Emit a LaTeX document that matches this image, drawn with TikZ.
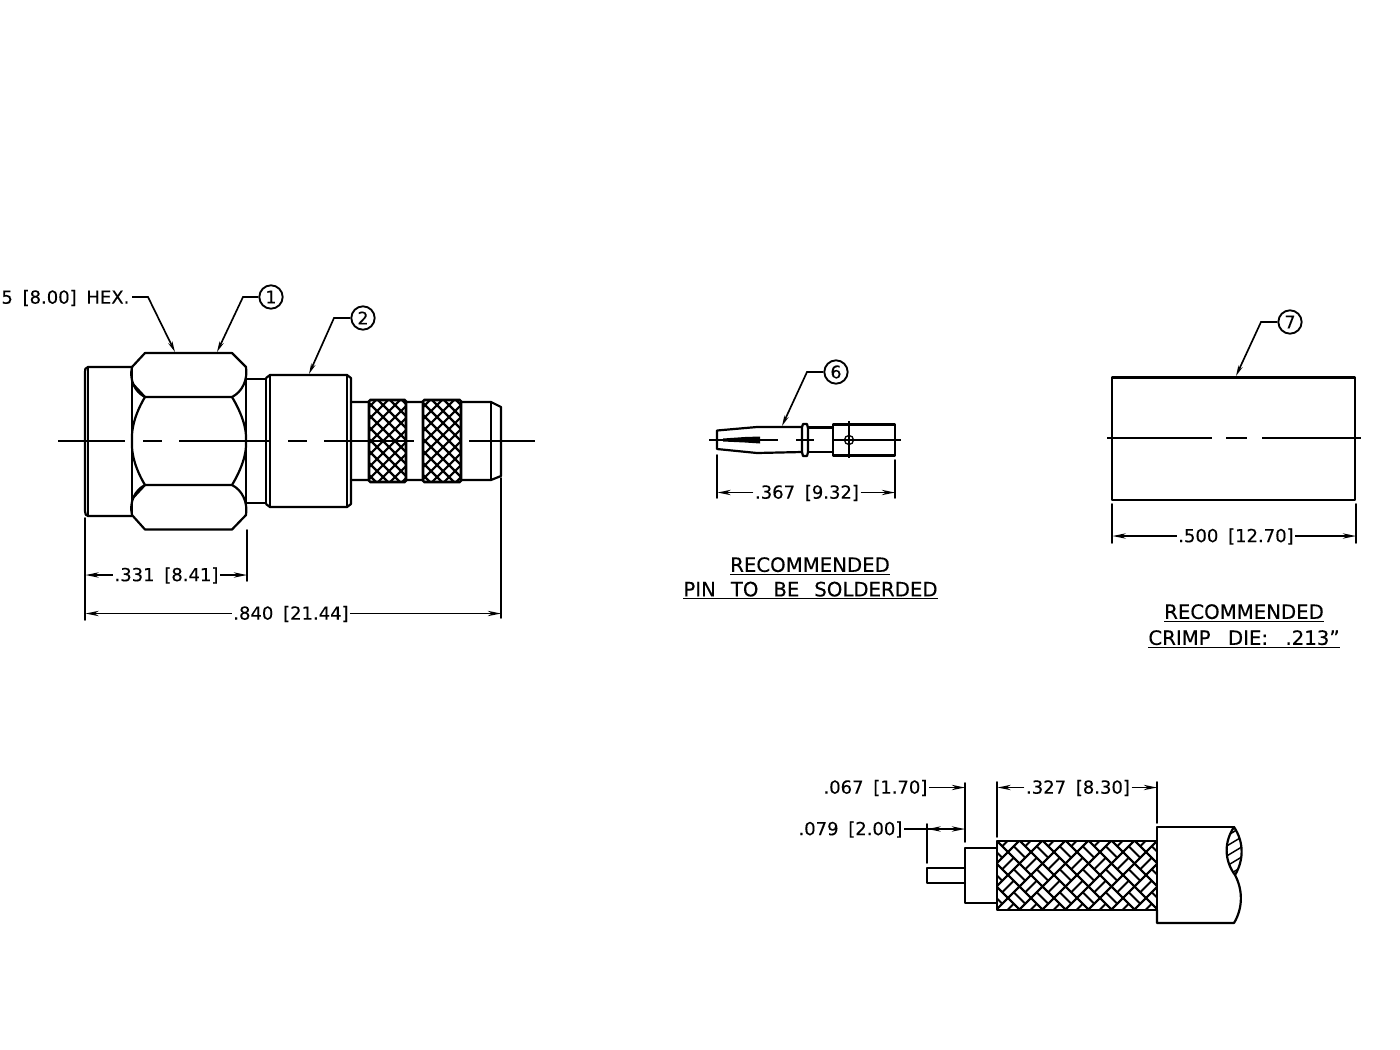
\documentclass[tikz,border=0pt]{standalone}
\usepackage{fontspec}
\setmainfont{DejaVu Sans}[FakeBold=0.25]
\usetikzlibrary{arrows.meta}
\newcommand{\gp}{\hspace{3pt}}
\tikzset{
  x=0.75pt,y=-0.75pt,
  ln/.style={line width=1.65pt,line cap=round,line join=round},
  thin ln/.style={line width=1.25pt,line cap=round},
  dimline/.style={line width=1.15pt,-{Stealth[length=10pt,width=4pt]}},
  leaderln/.style={line width=1.25pt,-{Stealth[length=8pt,width=3.4pt]}},
  dimtext/.style={inner sep=1pt,font=\fontsize{13.5}{15}\selectfont},
  headtext/.style={inner sep=0pt,font=\fontsize{14.8}{17}\selectfont},
  balloon/.style={circle,draw,line width=1.4pt,minimum size=17.5pt,inner sep=0pt,font=\fontsize{13}{13}\selectfont},
  center ln/.style={line width=1.3pt},
  knurl/.style={line width=1.6pt},
  weave/.style={line width=1.45pt},
}
\begin{document}
\begin{tikzpicture}
\useasboundingbox (0,0) rectangle (1400,1050);

% ---------- Main connector ----------
\draw[ln] (132,367) -- (88,367) .. controls (85,367) and (85,370) .. (85,372) -- (85,511) .. controls (85,514) and (86,516) .. (88,516) -- (132,516);
\draw[ln] (88,367) -- (88,516);
\draw[ln] (132,367) -- (132,516);
\draw[ln] (132,367) -- (145,353) -- (232,353) -- (246,367) .. controls (248,380) and (242,392) .. (232,397) -- (145,397) .. controls (135,392) and (129,380) .. (132,367);
\draw[ln] (132,515) -- (145,529.5) -- (232,529.5) -- (246,515) .. controls (248,502) and (242,490) .. (232,485) -- (145,485) .. controls (135,490) and (129,502) .. (132,515);
\draw[ln] (145,397) .. controls (136,412) and (131,428) .. (132,441) .. controls (131,454) and (136,470) .. (145,485);
\draw[ln] (232,397) .. controls (241,412) and (247,428) .. (246,441) .. controls (247,454) and (241,470) .. (232,485);
\draw[ln] (132,383) -- (145,397) (132,499) -- (145,485);
\draw[ln] (246,367) -- (246,515);
\draw[ln] (246,379) -- (266,379) (246,503) -- (266,503);
\draw[ln] (266,379) -- (266,503);
\draw[ln] (266,378) -- (270,375) -- (347,375) -- (351,378) -- (351,504) -- (347,507) -- (270,507) -- (266,504);
\draw[ln] (270,375) -- (270,507) (347,375) -- (347,507);
% tube
\draw[ln] (351,402) -- (369,402) (406,402) -- (423,402) (461,402) -- (491,402) -- (501,407) -- (501,476) -- (491,480) -- (461,480) (423,480) -- (406,480) (369,480) -- (351,480);
\draw[ln] (491,402) -- (491,480);
% knurls
\begin{scope}
\clip (369,400) rectangle (406,482);
\foreach \k in {270,282,...,420}{\draw[knurl] (\k,400) -- ++(82,82) (\k,482) -- ++(82,-82);}
\end{scope}
\begin{scope}
\clip (423,400) rectangle (461,482);
\foreach \k in {324,336,...,474}{\draw[knurl] (\k,400) -- ++(82,82) (\k,482) -- ++(82,-82);}
\end{scope}
\draw[line width=1.9pt,rounded corners=1pt] (369,400) rectangle (406,482);
\draw[line width=1.9pt,rounded corners=1pt] (423,400) rectangle (461,482);
% centre line
\draw[center ln] (58,441) -- (125,441) (143,441) -- (162,441) (179,441) -- (270,441) (288,441) -- (307,441) (324,441) -- (414,441) (469,441) -- (535,441);

% leaders
\node[dimtext,anchor=east] (hex) at (131,298) {5\gp{} [8.00]\gp{} HEX.};
\node[balloon] (b1) at (271,297) {1};
\node[balloon] (b2) at (363,318) {2};
\coordinate (h1) at (175,352);
\coordinate (h2) at (217,352);
\coordinate (h3) at (309,374);
\draw[leaderln] (132,297) -- (148,297) -- (h1);
\draw[leaderln] (b1.west) -- (243,297) -- (h2);
\draw[leaderln] (b2.west) -- (334,318) -- (h3);

% dims, main
\draw[thin ln] (85,518) -- (85,620) (247,530) -- (247,581) (501,478) -- (501,618);
\node[dimtext] (d331) at (166.5,575.5) {.331\gp{} [8.41]};
\node[dimtext] (d840) at (291,614) {.840\gp{} [21.44]};
\coordinate (a1) at (85.5,575);
\coordinate (a2) at (247,575);
\coordinate (a3) at (85.5,613.5);
\coordinate (a4) at (501,613.5);
\draw[dimline] (d331.west |- a1) -- (a1);
\draw[dimline] (d331.east |- a2) -- (a2);
\draw[dimline] (d840.west |- a3) -- (a3);
\draw[dimline] (d840.east |- a4) -- (a4);

% ---------- Pin ----------
\draw[ln] (802,427) -- (757,427) -- (717,430.5) -- (717,449) -- (757,453) -- (802,452);
\draw[ln] (802,427) -- (803,424) -- (807,424) -- (808,428) -- (808,452) -- (807,456) -- (803,456) -- (802,452) -- cycle;
\draw[ln] (808,427.5) -- (833,427.5) (808,452) -- (833,452);
\draw[ln] (833,424.5) rectangle (895,455.5);
\draw[center ln] (709,440) -- (778,440) (796,440) -- (814,440) (832,440) -- (901,440) (849,421) -- (849,458);
\draw[line width=1pt] (849,440) circle[radius=3.4pt];
\fill (723,438.5) -- (745,437) -- (760,436.5) -- (760,443.5) -- (745,442.5) -- (723,441.5) -- cycle;
\node[balloon] (b6) at (836,372) {6};
\coordinate (h6) at (782,426);
\draw[leaderln] (b6.west) -- (807,372) -- (h6);
\draw[thin ln] (717,455) -- (717,498) (895,460) -- (895,498);
\node[dimtext] (d367) at (807,493) {.367\gp{} [9.32]};
\coordinate (a5) at (717.5,492.5);
\coordinate (a6) at (895,492.5);
\draw[dimline] (d367.west |- a5) -- (a5);
\draw[dimline] (d367.east |- a6) -- (a6);
\node[headtext] (r1) at (810,566) {\underline{RECOMMENDED}};
\node[headtext] (r2) at (810.5,590.5) {\underline{PIN\hspace{6.5pt} TO\hspace{6.5pt} BE\hspace{6.5pt} SOLDERDED}};

% ---------- Crimp ferrule ----------
\draw[ln] (1112,377.5) rectangle (1355,500);
\draw[center ln] (1107,438) -- (1212,438) (1226,438) -- (1247,438) (1262,438) -- (1361,438);
\node[balloon] (b7) at (1290,322) {7};
\coordinate (h7) at (1236,376);
\draw[leaderln] (b7.west) -- (1261,322) -- (h7);
\draw[thin ln] (1112,504) -- (1112,543) (1356,504) -- (1356,543);
\node[dimtext] (d500) at (1236,536.5) {.500\gp{} [12.70]};
\coordinate (a7) at (1112.5,536);
\coordinate (a8) at (1356,536);
\draw[dimline] (d500.west |- a7) -- (a7);
\draw[dimline] (d500.east |- a8) -- (a8);
\node[headtext] (r3) at (1244,613) {\underline{RECOMMENDED}};
\node[headtext] (r4) at (1244,639) {\underline{CRIMP\hspace{8.3pt} DIE:\hspace{8.3pt} .213"}};

% ---------- Cable ----------
\draw[ln] (965,868) -- (927,868) -- (927,883) -- (965,883);
\draw[ln] (997,848) -- (965,848) -- (965,903) -- (997,903);
\begin{scope}
\clip (997,841) rectangle (1157,910);
\foreach \wi in {-7,...,9}{
  \foreach \wj in {-9,...,7}{
    \pgfmathsetmacro{\ux}{1077+(\wi+\wj)*11.5}
    \pgfmathsetmacro{\uy}{875+(\wj-\wi)*11.5}
    \pgfmathtruncatemacro{\wpar}{mod(abs(\wi+\wj),2)}
    \begin{scope}[shift={(\ux,\uy)}]
      \draw[weave] (0,0) -- (11.5,11.5) -- (23,0) -- (11.5,-11.5) -- cycle;
      \ifnum\wpar=0
        \draw[weave] (5.75,-5.75) -- (17.25,5.75);
      \else
        \draw[weave] (5.75,5.75) -- (17.25,-5.75);
      \fi
    \end{scope}
  }
}
\end{scope}
\draw[ln] (997,841) rectangle (1157,910);
\draw[ln] (1157,910) -- (1157,923) -- (1234,923) .. controls (1243,908) and (1243,890) .. (1235,875);
\draw[ln] (1157,841) -- (1157,827) -- (1234,827);
\begin{scope}
\clip (1234,827) .. controls (1224,842) and (1224,860) .. (1235,875) .. controls (1244,860) and (1244,842) .. (1234,827);
\foreach \k in {0,10,...,50}{\draw[line width=1.1pt] (1220,830+\k) -- ++(30,-18);}
\end{scope}
\draw[ln] (1234,827) .. controls (1224,842) and (1224,860) .. (1235,875) .. controls (1244,860) and (1244,842) .. (1234,827);

\draw[thin ln] (965,783) -- (965,842) (997,782) -- (997,837) (1157,782) -- (1157,823) (927,824) -- (927,863);
\node[dimtext,anchor=east] (d067) at (929,788) {.067\gp{} [1.70]};
\node[dimtext,anchor=east] (d079) at (904,829.5) {.079\gp{} [2.00]};
\node[dimtext] (d327) at (1078,788) {.327\gp{} [8.30]};
\coordinate (a9) at (965,787.5);
\coordinate (a10) at (965,829);
\coordinate (a11) at (927.5,829);
\coordinate (a12) at (997.5,787.5);
\coordinate (a13) at (1157,787.5);
\draw[dimline] (d067.east |- a9) -- (a9);
\draw[dimline] (d079.east |- a10) -- (a10);
\draw[dimline] (947,829) -- (a11);
\draw[dimline] (d327.west |- a12) -- (a12);
\draw[dimline] (d327.east |- a13) -- (a13);
\end{tikzpicture}
\end{document}
